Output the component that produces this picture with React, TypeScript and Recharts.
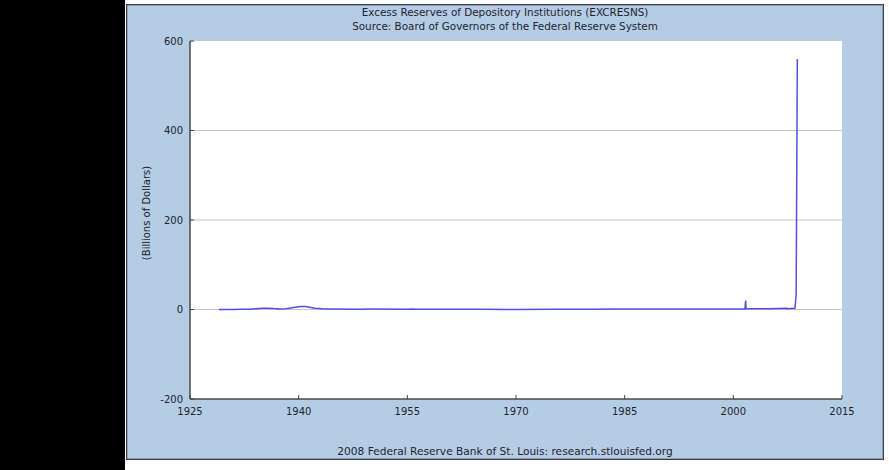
import React from "react";
import { LineChart, Line, XAxis, YAxis, CartesianGrid } from "recharts";

// decimal year of each observation
const dates = [
  1929.0, 1930.0, 1931.0, 1932.0, 1933.0, 1934.0, 1935.0, 1935.9, 1936.5,
  1937.5, 1938.0, 1938.7, 1939.5, 1940.3, 1940.9, 1941.5, 1942.2, 1942.8,
  1943.5, 1945.0, 1948.0, 1950.0, 1955.0, 1955.7, 1956.5, 1958.0, 1960.0,
  1965.0, 1970.0, 1975.0, 1980.0, 1984.0, 1985.0, 1990.0, 1995.0, 2000.0,
  2001.6, 2001.7, 2001.75, 2003.0, 2005.0, 2007.4, 2007.5, 2008.0, 2008.5,
  2008.67, 2008.79, 2008.83,
];

// excess reserves, billions of dollars
const reserves = [
  0.05, 0.1, 0.1, 0.4, 0.8, 1.8, 2.9, 3.0, 2.0,
  0.9, 1.4, 2.9, 4.8, 6.5, 6.8, 5.0, 2.8, 2.0,
  1.2, 1.1, 0.8, 0.9, 0.6, 1.3, 0.5, 0.5, 0.8,
  0.4, 0.2, 0.3, 0.4, 0.9, 1.0, 1.1, 1.2, 1.1,
  1.2, 20, 1.5, 1.6, 1.7, 3.0, 1.6, 2.0, 2.0,
  33, 415, 560,
];

const xTicks = [1925, 1940, 1955, 1970, 1985, 2000, 2015];
const yTicks = [-200, 0, 200, 400, 600];
const gridValues = [0, 200, 400];

const data = dates.map((d, i) => ({ date: d, value: reserves[i] }));

const FONT = "'DejaVu Sans', Verdana, sans-serif";
const TEXT = "#1f2330";

const YTick = ({ x, y, payload }: any) => (
  <g>
    <line x1={x} x2={x + 4} y1={y} y2={y} stroke="#444" />
    <text
      x={x - 7}
      y={y}
      textAnchor="end"
      dominantBaseline="central"
      fill={TEXT}
      style={{ fontFamily: FONT, fontSize: 10 }}
    >
      {payload.value}
    </text>
  </g>
);

const XTick = ({ x, y, payload }: any) => (
  <g>
    <line x1={x} x2={x} y1={y} y2={y - 4} stroke="#444" />
    <text
      x={x}
      y={y + 12}
      textAnchor="middle"
      dominantBaseline="central"
      fill={TEXT}
      style={{ fontFamily: FONT, fontSize: 10 }}
    >
      {payload.value}
    </text>
  </g>
);

export default function App() {
  return (
    <div
      style={{
        position: "absolute",
        left: 0,
        top: 0,
        width: 889,
        height: 470,
        background: "#fff",
        overflow: "hidden",
        fontFamily: FONT,
      }}
    >
      <div
        style={{
          position: "absolute",
          left: 0,
          top: 0,
          width: 125,
          height: 470,
          background: "#000",
        }}
      />
      <div
        style={{
          position: "absolute",
          left: 126,
          top: 4,
          width: 758,
          height: 456,
          boxSizing: "border-box",
          background: "#b5cde4",
          border: "1px solid #3a404c",
          boxShadow: "inset 0 0 0 1px #8ea0b6",
        }}
      />
      <div
        style={{
          position: "absolute",
          left: 126,
          top: 5,
          width: 758,
          textAlign: "center",
          fontSize: 10.4,
          lineHeight: "14px",
          color: TEXT,
        }}
      >
        <div>Excess Reserves of Depository Institutions (EXCRESNS)</div>
        <div>Source: Board of Governors of the Federal Reserve System</div>
      </div>
      <div
        style={{
          position: "absolute",
          left: 126,
          top: 444,
          width: 758,
          textAlign: "center",
          fontSize: 10.6,
          lineHeight: "14px",
          color: TEXT,
        }}
      >
        2008 Federal Reserve Bank of St. Louis: research.stlouisfed.org
      </div>
      <div
        style={{
          position: "absolute",
          left: 146,
          top: 213,
          fontSize: 10,
          color: TEXT,
          whiteSpace: "nowrap",
          transform: "translate(-50%, -50%) rotate(-90deg)",
        }}
      >
        (Billions of Dollars)
      </div>
      <div style={{ position: "absolute", left: 0, top: 0 }}>
        <LineChart
          width={889}
          height={470}
          data={data}
          margin={{ top: 41, right: 47, bottom: 41, left: 130 }}
        >
          <CartesianGrid
            fill="#fff"
            vertical={false}
            horizontalValues={gridValues}
            stroke="#c4c4c4"
          />
          <XAxis
            dataKey="date"
            type="number"
            domain={[1925, 2015]}
            ticks={xTicks}
            height={30}
            tickSize={0}
            tickMargin={0}
            tickLine={false}
            tick={<XTick />}
            axisLine={{ stroke: "#4a4a4a", strokeWidth: 1.5 }}
          />
          <YAxis
            type="number"
            domain={[-200, 600]}
            ticks={yTicks}
            width={60}
            tickSize={0}
            tickMargin={0}
            tickLine={false}
            tick={<YTick />}
            axisLine={{ stroke: "#4a4a4a", strokeWidth: 1.5 }}
          />
          <Line
            type="linear"
            dataKey="value"
            stroke="#4f4fe3"
            strokeWidth={1.5}
            dot={false}
            isAnimationActive={false}
          />
        </LineChart>
      </div>
    </div>
  );
}
